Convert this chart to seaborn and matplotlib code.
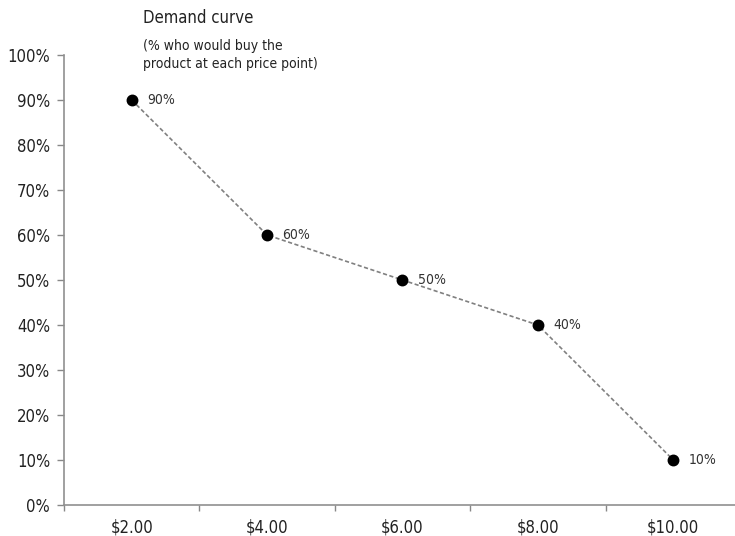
import matplotlib
matplotlib.use("Agg")
import matplotlib.pyplot as plt
import seaborn as sns
import pandas as pd

prices = ["$2.00", "$4.00", "$6.00", "$8.00", "$10.00"]
share_buying = [90, 60, 50, 40, 10]
y_ticks = [0, 10, 20, 30, 40, 50, 60, 70, 80, 90, 100]

sns.set_theme(style="white")
plt.rcParams["font.family"] = ["DejaVu Sans"]
plt.rcParams["font.stretch"] = "condensed"

df = pd.DataFrame({"price": prices, "share": share_buying})

fig = plt.figure(figsize=(7.35, 5.36), dpi=100)
ax = fig.add_axes([64 / 735, 31 / 536, 677 / 735, 450 / 536])

# dashed connector
sns.pointplot(data=df, x="price", y="share", ax=ax, color="#808080",
              linestyle=(0, (2.5, 1.5)), linewidth=1.2, marker="", errorbar=None)
# point markers
sns.pointplot(data=df, x="price", y="share", ax=ax, color="black",
              linestyle="none", marker="o", markersize=6.5, errorbar=None)

for i, v in enumerate(share_buying):
    ax.annotate(f"{v}%", (i, v), xytext=(11, 0), textcoords="offset points",
                va="center", ha="left", fontsize=10, color="#333333",
                fontstretch="condensed")

ax.set_xlim(-0.5, 4.5)
ax.set_ylim(0, 100)
ax.set_yticks(y_ticks)
ax.set_yticklabels([f"{t}%" for t in y_ticks])
ax.set_xticks(range(len(prices)))
ax.set_xticklabels(prices)
ax.set_xticks([i - 0.5 for i in range(len(prices) + 1)], minor=True)
ax.tick_params(axis="x", which="major", length=0, pad=10, labelsize=12, labelcolor="#222222")
ax.tick_params(axis="x", which="minor", length=4, color="#888888", width=1, direction="out", bottom=True)
ax.tick_params(axis="y", length=5, color="#888888", width=1, direction="out", left=True,
               labelsize=12, labelcolor="#222222", pad=5)
ax.set_xlabel("")
ax.set_ylabel("")

for side in ("top", "right"):
    ax.spines[side].set_visible(False)
for side in ("left", "bottom"):
    ax.spines[side].set_color("#909090")
    ax.spines[side].set_linewidth(1.2)

fig.text(143 / 735, 1 - 18 / 536, "Demand curve", fontsize=12, color="#222222",
         va="center", ha="left", fontstretch="condensed")
fig.text(143 / 735, 1 - 55 / 536, "(% who would buy the\nproduct at each price point)",
         fontsize=10, color="#222222", va="center", ha="left", linespacing=1.45,
         fontstretch="condensed")

fig.savefig("out.png", dpi=100)
